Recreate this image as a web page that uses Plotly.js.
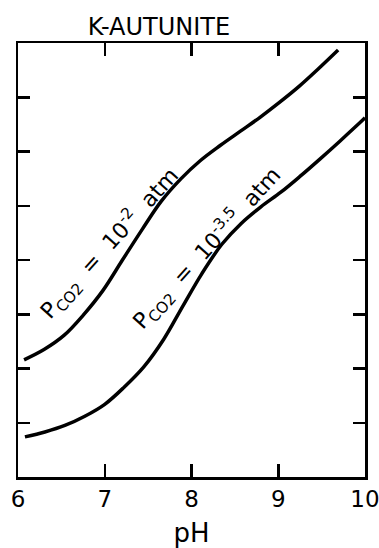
<!DOCTYPE html>
<html>
<head>
<meta charset="utf-8">
<script src="https://cdn.plot.ly/plotly-3.0.1.min.js"></script>
<style>
  html, body { margin: 0; padding: 0; background: #fff; }
  #chart { width: 379px; height: 548px; }
</style>
</head>
<body>
<div id="chart"></div>
<script>
// Solubility curves of K-autunite versus pH at two CO2 partial pressures
const phHigh = [6.07, 6.30, 6.53, 6.75, 6.98, 7.20, 7.43, 7.65, 7.88, 8.10, 8.33, 8.56, 8.79, 9.01, 9.24, 9.46, 9.69];
const valHigh = [2.16, 2.35, 2.61, 2.98, 3.44, 3.99, 4.56, 5.08, 5.50, 5.83, 6.11, 6.37, 6.63, 6.90, 7.20, 7.52, 7.87];

const phLow = [6.08, 6.31, 6.54, 6.77, 7.00, 7.22, 7.45, 7.68, 7.90, 8.12, 8.35, 8.57, 8.80, 9.03, 9.25, 9.48, 9.71, 9.94, 10.0];
const valLow = [0.74, 0.83, 0.95, 1.12, 1.34, 1.65, 2.03, 2.54, 3.15, 3.75, 4.29, 4.67, 4.98, 5.25, 5.54, 5.86, 6.19, 6.53, 6.62];

const xTicks = [6, 7, 8, 9, 10];
const xTickText = ['6', '7', '8', '9', '10'];
const yTicks = [1, 2, 3, 4, 5, 6, 7];

const labelHigh = 'P<sub>CO2</sub>  =  10<sup>-2</sup>  atm';
const labelLow = 'P<sub>CO2</sub>  =  10<sup>-3.5</sup>  atm';

const FONT = 'DejaVu Sans, sans-serif';
const lineStyle = { color: '#000', width: 3.5, shape: 'spline', smoothing: 1 };

const traces = [
  { x: phHigh, y: valHigh, mode: 'lines', line: lineStyle, hoverinfo: 'skip' },
  { x: phLow, y: valLow, mode: 'lines', line: lineStyle, hoverinfo: 'skip' }
];

const layout = {
  width: 379,
  height: 548,
  margin: { l: 18, r: 14, t: 43, b: 71 },
  paper_bgcolor: '#fff',
  plot_bgcolor: '#fff',
  showlegend: false,
  font: { family: FONT, color: '#000' },
  title: {
    text: 'K-AUTUNITE',
    font: { family: FONT, size: 24, color: '#000' },
    xref: 'paper', x: 0.406, xanchor: 'center',
    yref: 'container', y: 1 - 27 / 548, yanchor: 'middle'
  },
  xaxis: {
    range: [6, 10],
    tickvals: xTicks,
    ticktext: xTickText,
    ticks: 'inside',
    ticklen: 13,
    tickwidth: 2.5,
    tickcolor: '#000',
    ticklabeloverflow: 'allow',
    showline: true,
    linecolor: '#000',
    linewidth: 2.5,
    mirror: 'ticks',
    showgrid: false,
    zeroline: false,
    tickfont: { family: FONT, size: 23, color: '#000' },
    title: { text: 'pH', font: { family: FONT, size: 26, color: '#000' }, standoff: 15 }
  },
  yaxis: {
    range: [0, 8],
    tickvals: yTicks,
    showticklabels: false,
    ticks: 'inside',
    ticklen: 12,
    tickwidth: 2.5,
    tickcolor: '#000',
    showline: true,
    linecolor: '#000',
    linewidth: 2.5,
    mirror: 'ticks',
    showgrid: false,
    zeroline: false
  },
  annotations: [
    {
      x: 7.06, y: 4.31, xref: 'x', yref: 'y',
      text: labelHigh, showarrow: false, textangle: -48,
      font: { family: FONT, size: 22, color: '#000' }
    },
    {
      x: 8.18, y: 4.22, xref: 'x', yref: 'y',
      text: labelLow, showarrow: false, textangle: -48,
      font: { family: FONT, size: 22, color: '#000' }
    }
  ]
};

Plotly.newPlot('chart', traces, layout, { staticPlot: true, displayModeBar: false });
</script>
</body>
</html>
